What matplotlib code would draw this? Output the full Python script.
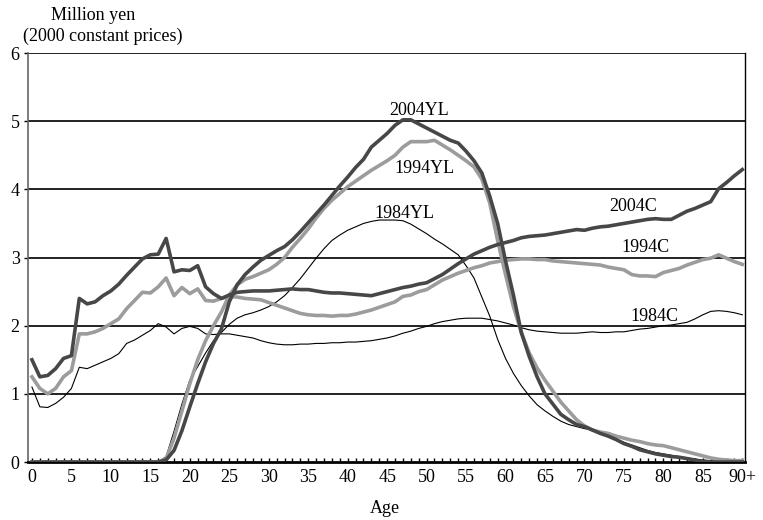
import matplotlib
matplotlib.use("Agg")
import matplotlib.pyplot as plt
import numpy as np

plt.rcParams['font.family'] = ['Liberation Serif', 'DejaVu Serif']

ages = np.arange(0, 91)
age_ticks = list(range(0, 91, 5))
age_labels = [str(a) for a in age_ticks[:-1]] + ['90+']

# consumption (C) profiles, million yen
c2004 = [1.50, 1.25, 1.27, 1.37, 1.52, 1.56, 2.40, 2.32, 2.35, 2.44,
         2.51, 2.61, 2.74, 2.86, 2.98, 3.04, 3.05, 3.28, 2.79, 2.82,
         2.81, 2.88, 2.57, 2.47, 2.40, 2.45, 2.49, 2.50, 2.51, 2.51,
         2.51, 2.52, 2.53, 2.54, 2.53, 2.53, 2.51, 2.49, 2.48, 2.48,
         2.47, 2.46, 2.45, 2.44, 2.47, 2.50, 2.53, 2.56, 2.58, 2.61,
         2.63, 2.69, 2.75, 2.83, 2.91, 2.98, 3.05, 3.10, 3.15, 3.19,
         3.22, 3.25, 3.29, 3.31, 3.32, 3.33, 3.35, 3.37, 3.39, 3.41,
         3.40, 3.43, 3.45, 3.46, 3.48, 3.50, 3.52, 3.54, 3.56, 3.57,
         3.56, 3.56, 3.62, 3.68, 3.72, 3.77, 3.82, 4.01, 4.10, 4.20,
         4.29]
c1994 = [1.25, 1.08, 1.00, 1.08, 1.25, 1.34, 1.88, 1.88, 1.91, 1.96,
         2.03, 2.10, 2.25, 2.37, 2.49, 2.48, 2.57, 2.70, 2.44, 2.56,
         2.47, 2.54, 2.37, 2.36, 2.40, 2.43, 2.42, 2.40, 2.39, 2.38,
         2.34, 2.30, 2.26, 2.22, 2.18, 2.16, 2.15, 2.15, 2.14, 2.15,
         2.15, 2.17, 2.20, 2.23, 2.27, 2.31, 2.35, 2.43, 2.45, 2.50,
         2.53, 2.60, 2.67, 2.72, 2.77, 2.81, 2.85, 2.88, 2.92, 2.94,
         2.96, 2.97, 2.98, 2.98, 2.97, 2.97, 2.95, 2.94, 2.93, 2.92,
         2.91, 2.90, 2.89, 2.86, 2.84, 2.82, 2.75, 2.73, 2.73, 2.72,
         2.78, 2.81, 2.84, 2.89, 2.93, 2.97, 2.99, 3.04, 2.99, 2.94,
         2.90]
c1984 = [1.10, 0.81, 0.80, 0.86, 0.95, 1.08, 1.39, 1.37, 1.42, 1.47,
         1.52, 1.59, 1.74, 1.79, 1.86, 1.93, 2.03, 1.98, 1.88, 1.96,
         1.99, 1.96, 1.88, 1.87, 1.88, 1.88, 1.86, 1.84, 1.82, 1.78,
         1.75, 1.73, 1.72, 1.72, 1.73, 1.73, 1.74, 1.74, 1.75, 1.75,
         1.76, 1.76, 1.77, 1.78, 1.80, 1.82, 1.85, 1.89, 1.92, 1.96,
         1.99, 2.03, 2.06, 2.08, 2.10, 2.11, 2.11, 2.11, 2.09, 2.07,
         2.04, 2.01, 1.97, 1.94, 1.92, 1.91, 1.90, 1.89, 1.89, 1.89,
         1.90, 1.91, 1.90, 1.90, 1.91, 1.91, 1.93, 1.95, 1.96, 1.98,
         2.00, 2.01, 2.03, 2.05, 2.10, 2.16, 2.21, 2.22, 2.21, 2.19,
         2.16]

# labour income (YL) profiles
yl2004 = [0.0] * 17 + [
    0.03, 0.17, 0.46, 0.81, 1.15, 1.47, 1.74, 1.95, 2.35, 2.60,
    2.75, 2.86, 2.96, 3.03, 3.10, 3.16, 3.26, 3.38, 3.51, 3.64,
    3.77, 3.91, 4.05, 4.18, 4.32, 4.44, 4.62, 4.72, 4.82, 4.94,
    5.02, 5.02, 4.96, 4.90, 4.84, 4.78, 4.72, 4.68, 4.56, 4.42,
    4.24, 3.90, 3.50, 2.95, 2.45, 1.90, 1.55, 1.25, 1.00, 0.85,
    0.70, 0.62, 0.55, 0.52, 0.47, 0.42, 0.38, 0.33, 0.27, 0.23,
    0.18, 0.15, 0.12, 0.10, 0.08, 0.07, 0.05, 0.03, 0.01, 0.0,
    0.0, 0.0, 0.0, 0.0]
yl1994 = [0.0] * 17 + [
    0.05, 0.35, 0.75, 1.15, 1.50, 1.78, 2.00, 2.20, 2.45, 2.60,
    2.68, 2.72, 2.77, 2.82, 2.90, 3.00, 3.15, 3.28, 3.42, 3.58,
    3.72, 3.84, 3.94, 4.04, 4.12, 4.20, 4.28, 4.35, 4.42, 4.50,
    4.62, 4.70, 4.70, 4.70, 4.72, 4.65, 4.58, 4.50, 4.42, 4.33,
    4.15, 3.80, 3.25, 2.75, 2.28, 1.90, 1.60, 1.38, 1.20, 1.04,
    0.88, 0.75, 0.62, 0.53, 0.47, 0.44, 0.42, 0.38, 0.35, 0.32,
    0.30, 0.27, 0.25, 0.24, 0.21, 0.18, 0.15, 0.12, 0.09, 0.06,
    0.04, 0.03, 0.02, 0.02]
yl1984 = [0.0] * 17 + [
    0.08, 0.45, 0.85, 1.20, 1.40, 1.60, 1.78, 1.90, 2.02, 2.11,
    2.16, 2.19, 2.23, 2.28, 2.35, 2.44, 2.56, 2.69, 2.84, 2.99,
    3.13, 3.25, 3.33, 3.40, 3.45, 3.50, 3.53, 3.55, 3.55, 3.55,
    3.54, 3.49, 3.42, 3.35, 3.27, 3.20, 3.12, 3.04, 2.88, 2.70,
    2.42, 2.14, 1.80, 1.52, 1.30, 1.12, 0.97, 0.84, 0.75, 0.67,
    0.60, 0.55, 0.52, 0.49, 0.47, 0.43, 0.39, 0.34, 0.29, 0.25,
    0.21, 0.17, 0.14, 0.12, 0.10, 0.08, 0.06, 0.04, 0.03, 0.02,
    0.01, 0.0, 0.0, 0.0]

dark = '#474747'
light = '#9c9c9c'
fs = 13

fig = plt.figure(figsize=(7.63, 5.20), dpi=100)
ax = fig.add_axes([0.0367, 0.1115, 0.9393, 0.7865])

for yv in range(1, 7):
    ax.axhline(yv, color='#111111', lw=1.3, zorder=1)

ax.plot(ages, c1984, color='black', lw=0.8, zorder=3)
ax.plot(ages, yl1984, color='black', lw=0.8, zorder=3)
ax.plot(ages, c1994, color=light, lw=2.6, zorder=4)
ax.plot(ages, yl1994, color=light, lw=2.6, zorder=4)
ax.plot(ages, c2004, color=dark, lw=2.6, zorder=5)
ax.plot(ages, yl2004, color=dark, lw=2.6, zorder=5)

lab = dict(fontsize=fs, ha='center', va='center', zorder=6)
ax.text(49.1, 5.16, '2004YL', **lab)
ax.text(49.7, 4.31, '1994YL', **lab)
ax.text(47.2, 3.64, '1984YL', **lab)
ax.text(76.2, 3.75, '2004C', **lab)
ax.text(77.7, 3.15, '1994C', **lab)
ax.text(78.8, 2.14, '1984C', **lab)

ax.set_xlim(-0.5, 90.3)
ax.set_ylim(0, 6)
ax.set_xticks(age_ticks)
ax.set_xticklabels(age_labels)
ax.set_xticks(ages, minor=True)
ax.set_yticks(range(0, 7))
ax.tick_params(axis='x', which='both', direction='in', length=3, width=1,
               labelsize=fs, pad=5)
ax.tick_params(axis='y', direction='out', length=3, width=1,
               labelsize=fs, pad=3)

ax.spines['left'].set_color('#666666')
ax.spines['left'].set_linewidth(1.2)
ax.spines['bottom'].set_linewidth(2)
ax.spines['top'].set_visible(False)
ax.spines['right'].set_linewidth(1)

fig.text(0.122, 0.971, 'Million yen', fontsize=fs, ha='center', va='center')
fig.text(0.135, 0.931, '(2000 constant prices)', fontsize=fs,
         ha='center', va='center')
fig.text(0.505, 0.023, 'Age', fontsize=fs, ha='center', va='center')

fig.savefig('out.png', dpi=100)
